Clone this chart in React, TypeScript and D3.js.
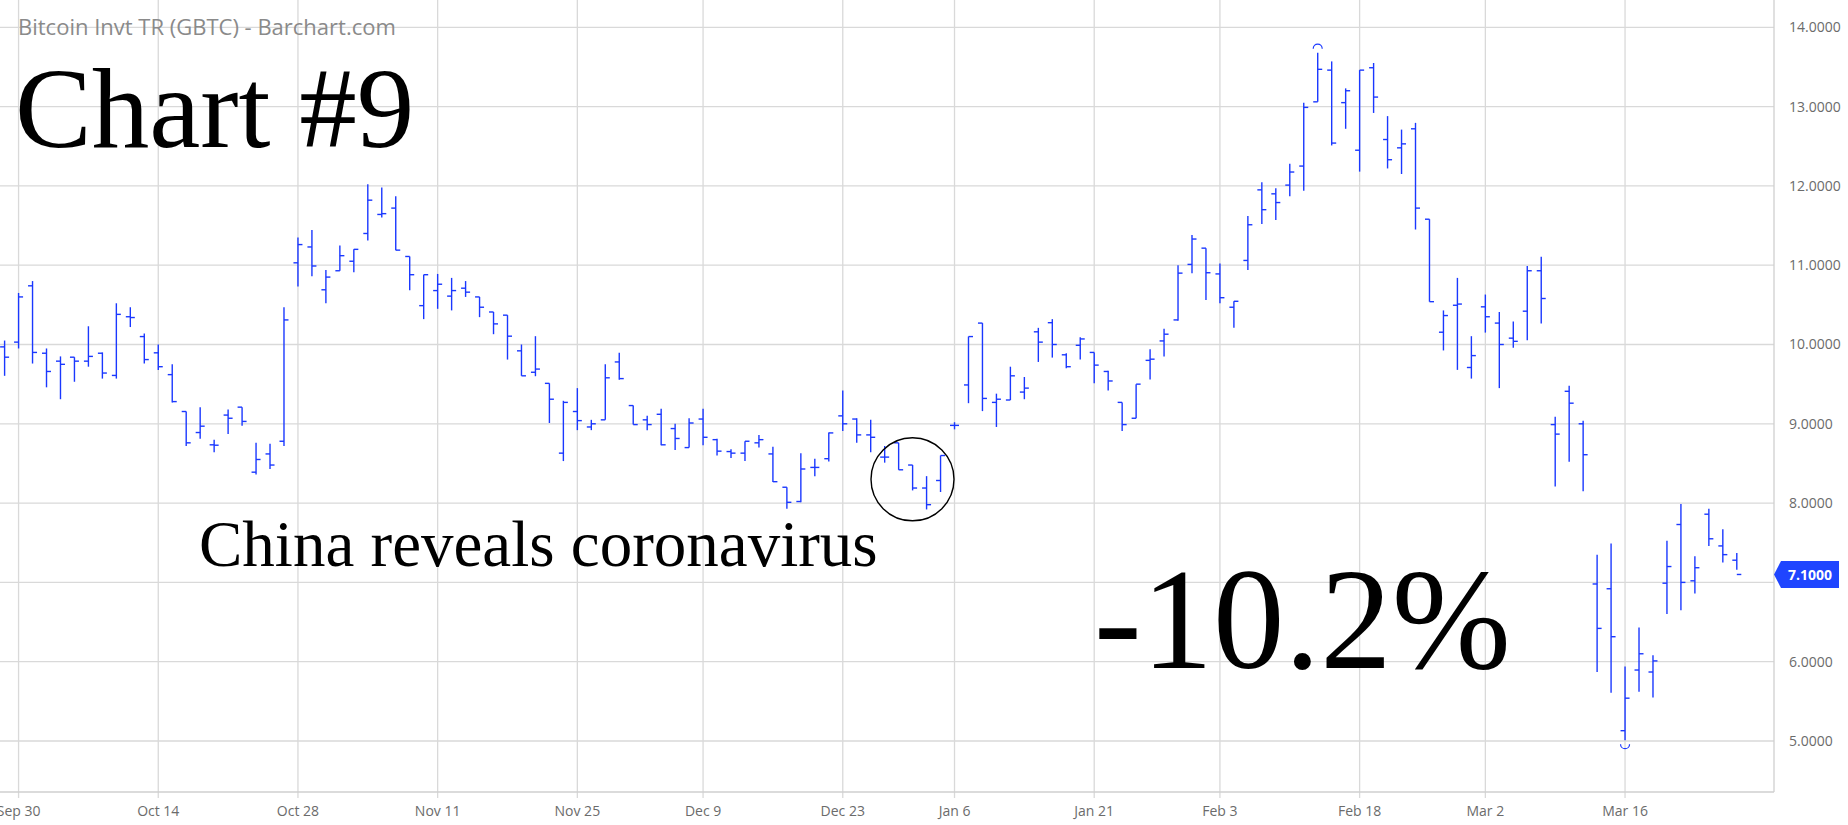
import React from "react";
import * as d3 from "d3";

const dates = [
  "2019-09-27","2019-09-30","2019-10-01","2019-10-02","2019-10-03","2019-10-04","2019-10-07","2019-10-08","2019-10-09","2019-10-10",
  "2019-10-11","2019-10-14","2019-10-15","2019-10-16","2019-10-17","2019-10-18","2019-10-21","2019-10-22","2019-10-23","2019-10-24",
  "2019-10-25","2019-10-28","2019-10-29","2019-10-30","2019-10-31","2019-11-01","2019-11-04","2019-11-05","2019-11-06","2019-11-07",
  "2019-11-08","2019-11-11","2019-11-12","2019-11-13","2019-11-14","2019-11-15","2019-11-18","2019-11-19","2019-11-20","2019-11-21",
  "2019-11-22","2019-11-25","2019-11-26","2019-11-27","2019-11-29","2019-12-02","2019-12-03","2019-12-04","2019-12-05","2019-12-06",
  "2019-12-09","2019-12-10","2019-12-11","2019-12-12","2019-12-13","2019-12-16","2019-12-17","2019-12-18","2019-12-19","2019-12-20",
  "2019-12-23","2019-12-24","2019-12-26","2019-12-27","2019-12-30","2019-12-31","2020-01-02","2020-01-03","2020-01-06","2020-01-07",
  "2020-01-08","2020-01-09","2020-01-10","2020-01-13","2020-01-14","2020-01-15","2020-01-16","2020-01-17","2020-01-21","2020-01-22",
  "2020-01-23","2020-01-24","2020-01-27","2020-01-28","2020-01-29","2020-01-30","2020-01-31","2020-02-03","2020-02-04","2020-02-05",
  "2020-02-06","2020-02-07","2020-02-10","2020-02-11","2020-02-12","2020-02-13","2020-02-14","2020-02-18","2020-02-19","2020-02-20",
  "2020-02-21","2020-02-24","2020-02-25","2020-02-26","2020-02-27","2020-02-28","2020-03-02","2020-03-03","2020-03-04","2020-03-05",
  "2020-03-06","2020-03-09","2020-03-10","2020-03-11","2020-03-12","2020-03-13","2020-03-16","2020-03-17","2020-03-18","2020-03-19",
  "2020-03-20","2020-03-23","2020-03-24","2020-03-25","2020-03-26",
];

const opens = [
  9.97,10.03,10.74,9.89,9.79,9.84,9.79,9.89,9.61,10.35,
  10.10,9.895,9.62,9.155,8.89,8.735,9.11,9.21,8.39,8.62,
  8.78,11.03,11.23,10.69,10.93,11.05,11.40,11.64,11.72,11.11,
  10.49,10.68,10.61,10.71,10.60,10.41,10.37,9.92,9.65,9.51,
  8.63,9.155,8.96,9.05,9.78,9.23,9.05,9.12,8.94,8.70,
  9.06,8.80,8.65,8.63,8.76,8.62,8.20,8.02,8.45,8.56,
  9.10,9.06,8.86,8.58,8.76,8.48,8.19,8.285,8.98,9.49,
  10.27,9.27,9.30,9.40,10.16,10.275,9.87,9.99,9.90,9.66,
  9.27,9.07,9.80,10.045,10.31,11.01,11.215,10.89,10.47,11.06,
  11.95,11.90,12.01,12.25,13.06,13.46,13.05,12.45,13.49,12.585,
  12.48,12.72,11.58,10.155,10.495,9.71,10.475,10.27,10.08,10.42,
  10.93,8.99,9.41,9.00,6.98,6.92,5.13,5.895,5.87,6.99,
  7.73,7.02,7.86,7.46,7.28,
];

const highs = [
  10.05,10.65,10.80,9.95,9.85,9.84,10.23,9.90,10.52,10.47,
  10.14,10.00,9.75,9.155,9.21,8.80,9.18,9.21,8.76,8.75,
  10.47,11.35,11.445,10.94,11.25,11.20,12.02,11.98,11.87,11.11,
  10.88,10.89,10.84,10.80,10.60,10.41,10.37,10.00,10.105,9.51,
  9.29,9.45,9.05,9.75,9.895,9.23,9.10,9.19,9.00,9.07,
  9.19,8.81,8.68,8.78,8.86,8.71,8.20,8.63,8.56,8.89,
  9.42,9.07,9.05,8.72,8.76,8.48,8.34,8.60,9.02,10.10,
  10.27,9.38,9.72,9.59,10.21,10.32,9.89,10.09,9.90,9.67,
  9.27,9.50,9.94,10.20,11.00,11.38,11.215,11.02,10.545,11.62,
  12.045,11.97,12.28,13.05,13.68,13.57,13.23,13.46,13.55,12.88,
  12.71,12.795,11.58,10.43,10.84,10.105,10.63,10.41,10.29,10.99,
  11.105,9.09,9.48,9.04,7.35,7.49,5.94,6.43,6.08,7.525,
  7.99,7.33,7.93,7.67,7.37,
];

const lows = [
  9.605,9.95,9.76,9.46,9.31,9.53,9.72,9.57,9.57,10.22,
  9.76,9.68,9.27,8.72,8.81,8.64,8.87,8.975,8.36,8.43,
  8.72,10.73,10.86,10.52,10.93,10.91,11.31,11.60,11.19,10.685,
  10.32,10.45,10.43,10.60,10.345,10.13,9.81,9.605,9.60,9.01,
  8.53,8.92,8.92,9.05,9.555,8.99,8.92,8.73,8.67,8.70,
  8.73,8.60,8.57,8.53,8.70,8.265,7.93,8.01,8.34,8.525,
  8.91,8.76,8.64,8.51,8.42,8.16,7.92,8.14,8.93,9.26,
  9.16,8.96,9.30,9.31,9.78,9.835,9.70,9.81,9.51,9.42,
  8.91,9.07,9.56,9.85,10.30,10.90,10.56,10.52,10.21,10.94,
  11.52,11.57,11.87,11.94,13.06,12.51,12.72,12.18,12.92,12.22,
  12.15,11.45,10.54,9.925,9.68,9.57,10.15,9.45,9.96,10.055,
  10.265,8.21,8.52,8.15,5.87,5.61,5.01,5.62,5.55,6.60,
  6.65,6.86,7.46,7.25,7.16,
];

const closes = [
  9.84,10.60,9.90,9.66,9.75,9.79,9.85,9.64,10.38,10.34,
  9.81,9.72,9.28,8.76,8.97,8.73,9.07,9.03,8.55,8.48,
  10.31,11.26,10.99,10.85,11.12,11.20,11.82,11.65,11.19,10.88,
  10.88,10.76,10.68,10.66,10.47,10.26,10.105,9.605,9.69,9.31,
  9.27,9.04,9.00,9.58,9.57,8.99,8.99,8.735,8.815,9.01,
  8.83,8.655,8.63,8.78,8.80,8.27,8.01,8.43,8.45,8.885,
  9.00,8.86,8.83,8.58,8.42,8.19,7.98,8.60,8.98,10.10,
  9.32,9.31,9.605,9.45,10.03,10.00,9.72,10.07,9.74,9.54,
  8.99,9.50,9.815,10.13,10.90,11.33,10.905,10.59,10.545,11.51,
  11.70,11.79,12.175,12.99,13.47,12.54,13.20,13.46,13.12,12.33,
  12.53,11.72,10.54,10.365,10.51,9.86,10.35,10.00,10.04,10.93,
  10.58,8.87,9.26,8.61,6.42,6.315,5.54,6.10,6.01,7.20,
  7.00,7.185,7.55,7.35,7.10,
];

const xTickDates = ["2019-09-30","2019-10-14","2019-10-28","2019-11-11","2019-11-25","2019-12-09","2019-12-23","2020-01-06","2020-01-21","2020-02-03","2020-02-18","2020-03-02","2020-03-16"];
const xTickLabels = ["Sep 30","Oct 14","Oct 28","Nov 11","Nov 25","Dec 9","Dec 23","Jan 6","Jan 21","Feb 3","Feb 18","Mar 2","Mar 16"];
const yTicks = [5, 6, 7, 8, 9, 10, 11, 12, 13, 14];
const lastPrice = 7.1;
const titleText = "Bitcoin Invt TR (GBTC) - Barchart.com";
const chartLabel = "Chart #9";
const eventLabel = "China reveals coronavirus";
const changeLabel = "-10.2%";

const W = 1848;
const H = 825;
const PLOT_RIGHT = 1774;
const PLOT_BOTTOM = 792;
const BAR = "#1a38ff";
const GRID = "#d9d9d9";

export default function App() {
  const x = d3.scalePoint<string>().domain(dates).range([4.6, 1736.8]);
  const y = d3.scaleLinear().domain([5, 14]).range([741, 27.3]);
  const fmt = d3.format(".4f");

  const hiIdx = d3.maxIndex(highs);
  const loIdx = d3.minIndex(lows);
  const hx = x(dates[hiIdx])!;
  const lx = x(dates[loIdx])!;
  const upArc = d3.arc()({ innerRadius: 4.5, outerRadius: 4.5, startAngle: -Math.PI / 2, endAngle: Math.PI / 2 }) as string;
  const downArc = d3.arc()({ innerRadius: 4.5, outerRadius: 4.5, startAngle: Math.PI / 2, endAngle: (3 * Math.PI) / 2 }) as string;

  const ey = y(lastPrice);

  return (
    <div style={{ position: "absolute", left: 0, top: 0, width: W, height: H, background: "#fff" }}>
      <svg width={W} height={H} style={{ display: "block" }}>
        <rect width={W} height={H} fill="#fff" />
        {yTicks.map((t) => (
          <line key={"h" + t} x1={0} x2={PLOT_RIGHT} y1={y(t)} y2={y(t)} stroke={GRID} strokeWidth={1.3} />
        ))}
        {xTickDates.map((d) => (
          <line key={"v" + d} x1={x(d)} x2={x(d)} y1={0} y2={PLOT_BOTTOM + 6} stroke={GRID} strokeWidth={1.3} />
        ))}
        <line x1={0} x2={PLOT_RIGHT} y1={PLOT_BOTTOM} y2={PLOT_BOTTOM} stroke="#cfcfcf" strokeWidth={1.3} />
        <line x1={PLOT_RIGHT} x2={PLOT_RIGHT} y1={0} y2={PLOT_BOTTOM} stroke="#cfcfcf" strokeWidth={1.3} />

        {yTicks.map((t) => (
          <text key={"yl" + t} x={1789} y={y(t)} dy="0.35em" fontFamily="'Open Sans', sans-serif" fontSize={14} fill="#6b6b6b">
            {fmt(t)}
          </text>
        ))}
        {xTickDates.map((d, i) => (
          <text key={"xl" + d} x={x(d)} y={816} textAnchor="middle" fontFamily="'Open Sans', sans-serif" fontSize={14} fill="#6b6b6b">
            {xTickLabels[i]}
          </text>
        ))}

        <g stroke={BAR} strokeWidth={1.4} fill="none">
          {dates.map((d, i) => {
            const px = x(d)!;
            return (
              <g key={d}>
                <line x1={px} x2={px} y1={y(highs[i])} y2={y(lows[i])} />
                <line x1={px - 4.5} x2={px} y1={y(opens[i])} y2={y(opens[i])} />
                <line x1={px} x2={px + 4.5} y1={y(closes[i])} y2={y(closes[i])} />
              </g>
            );
          })}
        </g>
        <path d={upArc} transform={`translate(${hx},${y(highs[hiIdx]) - 4})`} fill="none" stroke={BAR} strokeWidth={1.2} />
        <path d={downArc} transform={`translate(${lx},${y(lows[loIdx]) + 4})`} fill="none" stroke={BAR} strokeWidth={1.2} />

        <path
          d={`M${PLOT_RIGHT},${ey} L${PLOT_RIGHT + 7},${ey - 13.5} L${1839},${ey - 13.5} L${1839},${ey + 13.5} L${PLOT_RIGHT + 7},${ey + 13.5} Z`}
          fill="#1f45ff"
        />
        <text x={1810} y={ey} dy="0.36em" textAnchor="middle" fontFamily="'Open Sans', sans-serif" fontSize={14} fontWeight="bold" fill="#fff">
          {fmt(lastPrice)}
        </text>

        <text x={18} y={35} fontFamily="'Open Sans', sans-serif" fontSize={22} fill="#8a8a8a">
          {titleText}
        </text>

        <text x={15} y={147} fontFamily="'Liberation Serif', 'Times New Roman', serif" fontSize={115} fill="#000">
          {chartLabel}
        </text>
        <text x={199} y={566} fontFamily="'Liberation Serif', 'Times New Roman', serif" fontSize={65} fill="#000">
          {eventLabel}
        </text>
        <text x={1094} y={668} fontFamily="'Liberation Serif', 'Times New Roman', serif" fontSize={143} fill="#000">
          {changeLabel}
        </text>
        <circle cx={912.5} cy={479.3} r={41.5} fill="none" stroke="#000" strokeWidth={1.4} />
      </svg>
    </div>
  );
}
